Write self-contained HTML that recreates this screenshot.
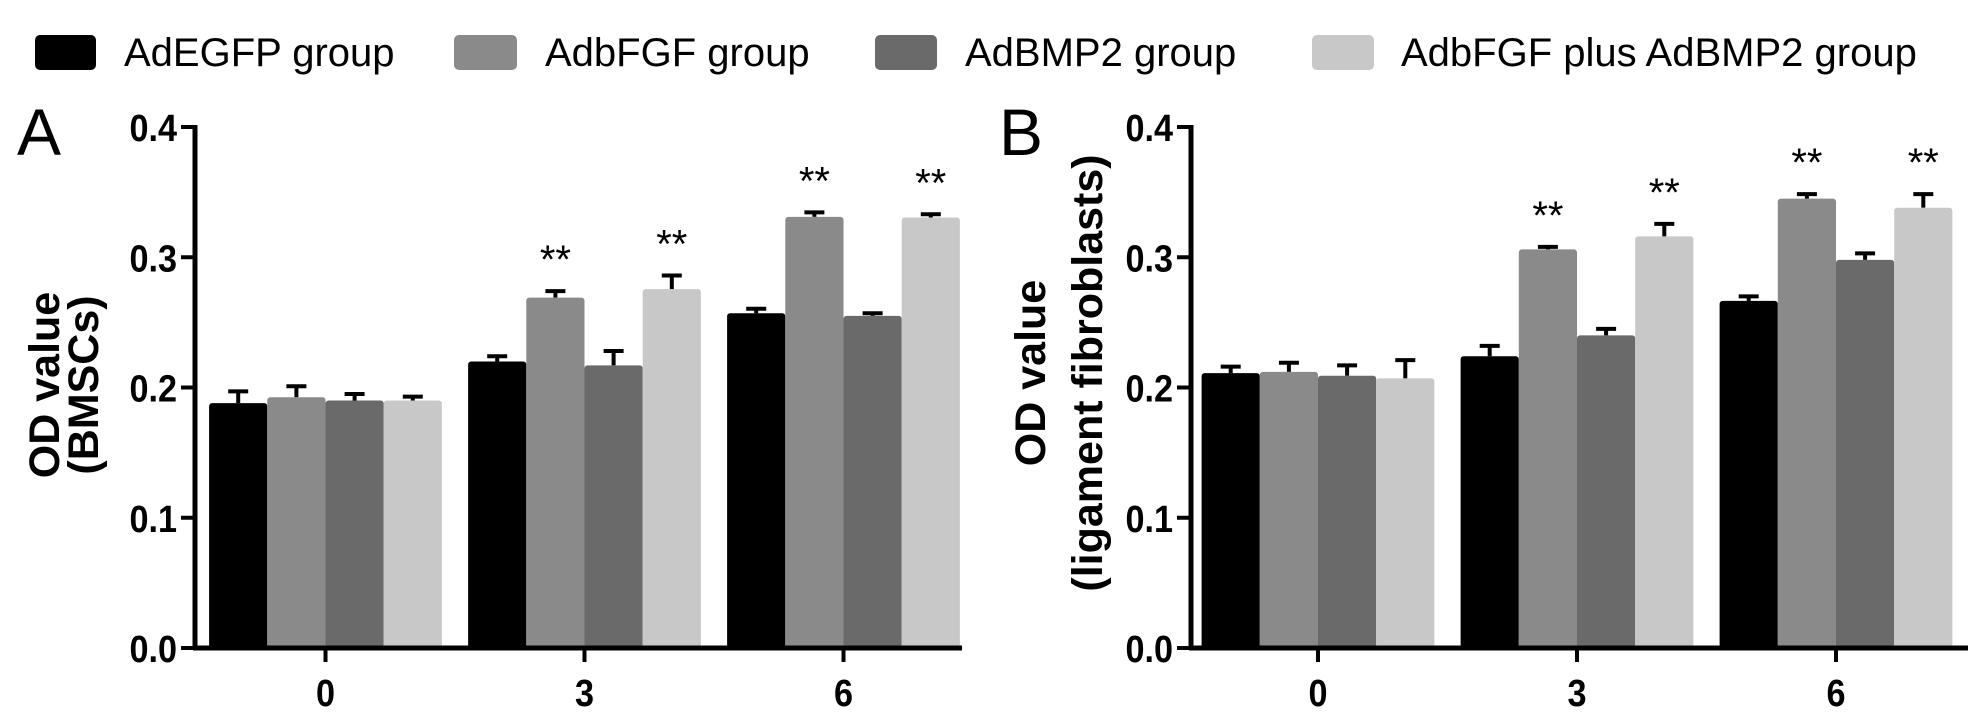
<!DOCTYPE html>
<html><head><meta charset="utf-8"><style>
html,body{margin:0;padding:0;background:#fff;}
svg{display:block;font-family:"Liberation Sans",sans-serif;}
</style></head><body>
<svg id="chart" width="1988" height="728" viewBox="0 0 1988 728" xmlns="http://www.w3.org/2000/svg">
<g font-size="40" fill="#000">
 <rect x="35" y="35" width="61" height="35" rx="5" fill="#000"/>
 <text x="124" y="66">AdEGFP group</text>
 <rect x="454" y="35" width="63" height="35" rx="5" fill="#8a8a8a"/>
 <text x="545" y="66">AdbFGF group</text>
 <rect x="875" y="35" width="62" height="35" rx="5" fill="#6a6a6a"/>
 <text x="965" y="66">AdBMP2 group</text>
 <rect x="1312" y="35" width="62" height="35" rx="5" fill="#c8c8c8"/>
 <text x="1401" y="66">AdbFGF plus AdBMP2 group</text>
</g>
<g id="pA"></g>
<g id="pB"></g>
</svg>
<script>
const categories = ["0","3","6"];
const seriesNames = ["AdEGFP","AdbFGF","AdBMP2","AdbFGF plus AdBMP2"];
const yTicks = [0.0,0.1,0.2,0.3,0.4];
const yTickLabels = ["0.0","0.1","0.2","0.3","0.4"];
// Panel A values [category][series]
const valuesA = [[0.188,0.1925,0.190,0.190],[0.220,0.269,0.217,0.2755],[0.257,0.331,0.255,0.3305]];
const errorsA = [[0.009,0.0085,0.005,0.003],[0.004,0.005,0.011,0.0105],[0.0035,0.0035,0.002,0.0025]];
const sigA = [[0,0,0,0],[0,1,0,1],[0,1,0,1]];
// Panel B values
const valuesB = [[0.211,0.212,0.209,0.207],[0.224,0.306,0.240,0.316],[0.2665,0.345,0.298,0.338]];
const errorsB = [[0.005,0.007,0.008,0.014],[0.008,0.002,0.005,0.0096],[0.0035,0.0035,0.005,0.0105]];
const sigB = [[0,0,0,0],[0,1,0,1],[0,1,0,1]];

const colors = ["#000000","#8a8a8a","#6a6a6a","#c8c8c8"];
const NS="http://www.w3.org/2000/svg";
function mk(p,tag,attrs){const e=document.createElementNS(NS,tag);for(const k in attrs)e.setAttribute(k,attrs[k]);p.appendChild(e);return e;}

function panel(g,cfg,vals,errs,sig){
  const y0=648, yTop=127, vmax=0.4;
  const yS=v=>y0-(v/vmax)*(y0-yTop);
  const groupW=259, barW=58.2;
  const xC=i=>cfg.firstCenter+i*groupW;
  vals.forEach((row,ci)=>{
    row.forEach((v,si)=>{
      const x=xC(ci)-2*barW+si*barW;
      const top=yS(v), et=yS(v+errs[ci][si]);
      const cx=x+barW/2;
      const eb=mk(g,'line',{x1:cx,x2:cx,y1:top,y2:et,stroke:'#000','stroke-width':4});
      
      
      const cap=mk(g,'line',{x1:cx-10,x2:cx+10,y1:et,y2:et,stroke:'#000','stroke-width':4});
      
      
      const r=mk(g,'rect',{x:x,y:top,width:barW,height:y0-top,fill:colors[si],rx:3});
      
      
      if(sig[ci][si]){
        const t=mk(g,'text',{x:cx,y:et-18,'text-anchor':'middle','font-size':40,fill:'#000'});
        t.textContent='**';
        
        
      }
    });
  });
  const ax=mk(g,'line',{x1:cfg.axisX,x2:cfg.axisX,y1:yTop-2,y2:y0+2,stroke:'#000','stroke-width':5});
  
  
  const xa=mk(g,'line',{x1:cfg.axisX-2,x2:cfg.axisEnd,y1:y0,y2:y0,stroke:'#000','stroke-width':5});
  
  
  yTicks.forEach((v,i)=>{
    const y=yS(v);
    const tk=mk(g,'line',{x1:cfg.axisX-14,x2:cfg.axisX,y1:y,y2:y,stroke:'#000','stroke-width':4});
    
    
    const t=mk(g,'text',{x:0,y:0,'font-size':38,'font-weight':'bold','text-anchor':'end',transform:`translate(${cfg.axisX-18} ${y+14}) scale(0.9 1)`});
    t.textContent=yTickLabels[i];
    
    
  });
  categories.forEach((c,i)=>{
    const x=xC(i);
    const tk=mk(g,'line',{x1:x,x2:x,y1:y0,y2:y0+14,stroke:'#000','stroke-width':4});
    
    
    const t=mk(g,'text',{x:0,y:0,'font-size':38,'font-weight':'bold','text-anchor':'middle',transform:`translate(${x} ${706}) scale(0.9 1)`});
    t.textContent=c;
    
    
  });
  const L=mk(g,'text',{x:cfg.labelX,y:155,'font-size':66,fill:'#000'});
  L.textContent=cfg.label;
  
  
  cfg.titles.forEach((tt,i)=>{
    const t=mk(g,'text',{x:0,y:0,'font-size':43,'font-weight':'bold','text-anchor':'middle',transform:`translate(${cfg.titleX[i]} ${cfg.titleY}) rotate(-90)`});
    t.textContent=tt;
    
    
  });
}
panel(document.getElementById('pA'),{axisX:195,axisEnd:962,firstCenter:325.5,label:'A',labelX:17,titles:['OD value','(BMSCs)'],titleX:[59,98],titleY:385},valuesA,errorsA,sigA);
panel(document.getElementById('pB'),{axisX:1191,axisEnd:1968,firstCenter:1318,label:'B',labelX:999,titles:['OD value','(ligament fibroblasts)'],titleX:[1045,1102],titleY:373},valuesB,errorsB,sigB);
</script>
</body></html>
